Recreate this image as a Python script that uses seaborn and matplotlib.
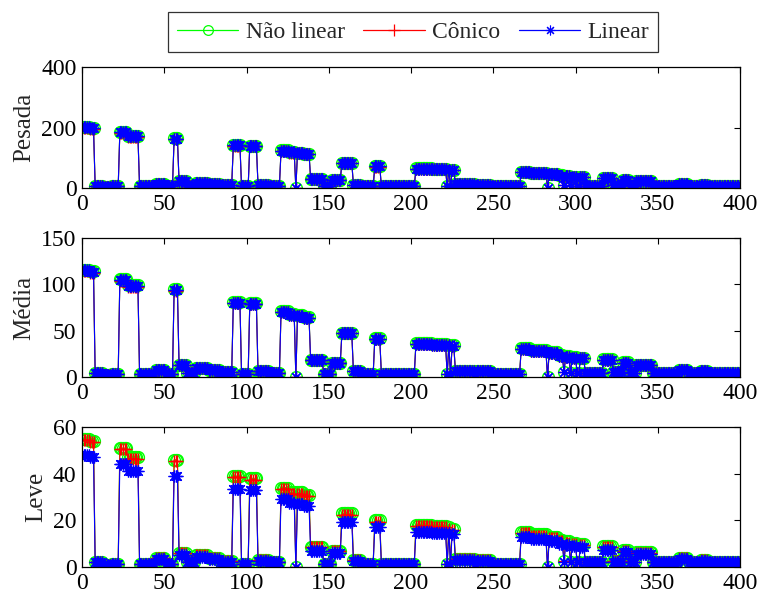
import numpy as np
import pandas as pd
import matplotlib
matplotlib.use("Agg")
import matplotlib.pyplot as plt
import seaborn as sns
from matplotlib.lines import Line2D

sns.set_style("white")
plt.rcParams['font.family'] = ['Liberation Serif', 'DejaVu Serif']
plt.rcParams['mathtext.fontset'] = 'stix'

# segment start indices (samples 1..400); each level holds until next start
seg_start = [1,5,8,13,18,23,28,35,45,51,56,59,64,69,77,84,92,97,102,107,114,121,126,130,131,
             135,139,147,152,158,165,170,178,182,203,213,222,223,224,225,227,239,240,249,267,
             273,283,284,290,293,294,297,298,301,303,306,317,323,329,333,337,347,363,369,376,381]

pes_nl = [202,198,7,4,5,185,172,5,14,5,164,23,7,17,14,9,142,5,140,10,7,124,119,0,117,114,31,5,26,84,
          10,5,72,5,65,63,5,61,5,60,12,0,10,5,54,51,0,47,42,9,40,7,38,7,37,7,33,9,28,7,23,7,14,7,10,7]
pes_co = [199,195,7,4,5,182,169,5,14,5,161,22,7,17,14,9,140,5,138,10,7,122,117,0,115,112,30,5,25,83,
          10,5,71,5,64,62,5,60,5,59,12,0,10,5,53,50,0,46,41,9,39,7,37,7,36,7,32,9,27,7,22,7,14,7,10,7]
pes_li = [201,197,7,4,5,184,171,5,14,5,163,23,7,17,14,9,141,5,139,10,7,123,118,0,116,113,31,5,26,83,
          10,5,72,5,64,62,5,60,5,59,12,0,10,5,53,50,0,46,41,9,39,7,37,7,36,7,32,9,28,7,23,7,14,7,10,7]

med_nl = [116,114,4,2,3,106,99,3,8,3,95,13,4,10,8,5,81,3,80,6,4,71,68,0,67,65,18,3,15,48,
          6,3,42,3,37,36,3,35,3,34,7,0,6,3,31,29,0,27,24,5,23,4,22,4,21,4,19,5,16,4,13,4,8,4,6,4]
med_co = [114,112,4,2,3,104,97,3,8,3,93,13,4,10,8,5,80,3,79,6,4,70,67,0,66,64,18,3,15,47,
          6,3,41,3,36,35,3,34,3,33,7,0,6,3,30,28,0,26,23,5,22,4,21,4,20,4,18,5,15,4,13,4,8,4,6,4]
med_li = [115,113,4,2,3,105,98,3,8,3,94,13,4,10,8,5,80,3,79,6,4,70,67,0,66,64,18,3,15,47,
          6,3,41,3,36,35,3,34,3,33,7,0,6,3,30,28,0,26,23,5,22,4,21,4,20,4,18,5,15,4,13,4,8,4,6,4]

lev_nl = [55,54,2,1,1.5,51,47,1.5,4,1.5,46,6,2,5,4,2.5,39,1.5,38,3,2,34,32,0,32,31,8.5,1.5,7,23,
          3,1.5,20,1.5,18,17.5,1.5,17,1.5,16.5,3.5,0,3,1.5,15,14,0,13,11.5,2.5,11,2,10.5,2,10,2,9,2.5,
          7.5,2,6.5,2,4,2,3,2]
lev_co = [54.5,53.5,2,1,1.5,50.5,46.5,1.5,4,1.5,45.5,6,2,5,4,2.5,38.5,1.5,37.5,3,2,33.5,31.5,0,31.5,
          30.5,8.5,1.5,7,22.5,3,1.5,19.5,1.5,17.5,17,1.5,16.5,1.5,16,3.5,0,3,1.5,14.5,13.5,0,12.5,11,
          2.5,10.5,2,10,2,9.5,2,8.5,2.5,7,2,6,2,4,2,3,2]
lev_li = [48,47,2,1,1.5,44,41,1.5,3.5,1.5,39,5,2,4.5,3.5,2,33.5,1.5,33,2.5,2,29,27.5,0,27,26,7,1.5,6,
          19.5,2.5,1.5,17,1.5,15,14.5,1.5,14.5,1.5,14,3,0,2.5,1.5,13,12,0,11,10,2,9.5,2,9,2,8.5,2,7.5,
          2,6.5,2,5.5,2,3.5,2,2.5,2]

series_names = ["Não linear", "Cônico", "Linear"]
panel_names = ["Pesada", "Média", "Leve"]
x_ticks = [0, 50, 100, 150, 200, 250, 300, 350, 400]
y_ticks = [[0, 200, 400], [0, 50, 100, 150], [0, 20, 40, 60]]
y_lims = [(0, 400), (0, 150), (0, 60)]

N = 400
idx = np.arange(1, N + 1)
lengths = np.diff(seg_start + [N + 1])

def expand(levels):
    return np.repeat(np.asarray(levels, dtype=float), lengths)

panels = [[pes_nl, pes_co, pes_li], [med_nl, med_co, med_li], [lev_nl, lev_co, lev_li]]

styles = [
    dict(color=(0, 1, 0), marker='o', markerfacecolor='none', markeredgecolor=(0, 1, 0), markersize=8.5, markeredgewidth=1.0),
    dict(color=(1, 0, 0), marker='+', markeredgecolor=(1, 0, 0), markersize=9, markeredgewidth=1.0),
    dict(color=(0, 0, 1), marker=(8, 2, 0), markeredgecolor=(0, 0, 1), markersize=8.5, markeredgewidth=0.9),
]
legend_styles = [
    dict(color=(0, 1, 0), marker='o', markerfacecolor='none', markeredgecolor=(0, 1, 0), markersize=7, markeredgewidth=0.9),
    dict(color=(1, 0, 0), marker='+', markeredgecolor=(1, 0, 0), markersize=9, markeredgewidth=0.9),
    dict(color=(0, 0, 1), marker=(8, 2, 0), markeredgecolor=(0, 0, 1), markersize=7, markeredgewidth=0.8),
]

fig = plt.figure(figsize=(7.58, 5.96), dpi=100)
rects = [
    (82/758, 1-188/596, (740-82)/758, (188-67)/596),
    (82/758, 1-377/596, (740-82)/758, (377-238)/596),
    (82/758, 1-567/596, (740-82)/758, (567-427)/596),
]

for p, (rect, levels3) in enumerate(zip(rects, panels)):
    ax = fig.add_axes(rect)
    for s, (lv, st) in enumerate(zip(levels3, styles)):
        df = pd.DataFrame({"x": idx, "y": expand(lv)})
        sns.lineplot(data=df, x="x", y="y", ax=ax, estimator=None, sort=False,
                     linewidth=0.8, **st)
    ax.set_xlim(0, 400)
    ax.set_ylim(*y_lims[p])
    ax.set_xticks(x_ticks)
    ax.set_yticks(y_ticks[p])
    ax.set_xlabel("")
    ax.set_ylabel(panel_names[p], fontsize=18, labelpad=4)
    ax.tick_params(direction='in', length=4, width=0.8, top=True, right=True,
                   labelsize=17, colors='black', pad=4)
    for sp in ax.spines.values():
        sp.set_visible(True)
        sp.set_color('black')
        sp.set_linewidth(0.9)
    ax.set_facecolor('white')

handles = [Line2D([0], [0], linewidth=0.9, **st) for st in legend_styles]
leg = fig.legend(handles, series_names, loc='upper center', ncol=3,
                 bbox_to_anchor=(413/758, 1-12/596), borderaxespad=0, fontsize=17,
                 frameon=True, fancybox=False, edgecolor='black', handlelength=2.6,
                 handletextpad=0.3, columnspacing=0.8, borderpad=0.4)
leg.get_frame().set_linewidth(0.9)

fig.savefig("out.png", dpi=100, facecolor='white')
